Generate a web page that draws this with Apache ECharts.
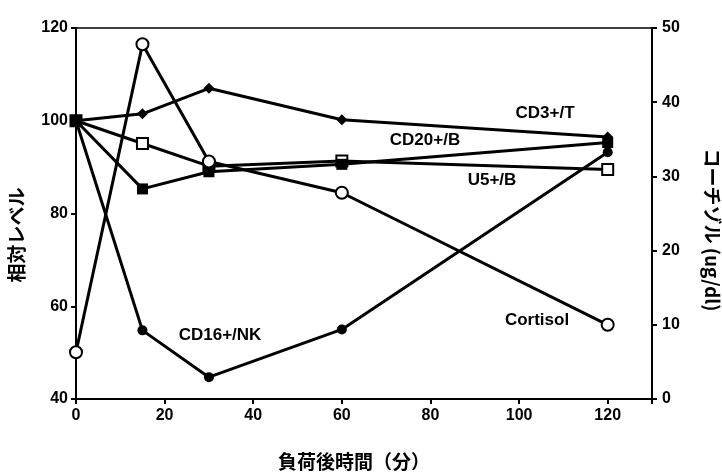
<!DOCTYPE html>
<html>
<head>
<meta charset="utf-8">
<script src="https://cdn.jsdelivr.net/npm/echarts@6/dist/echarts.min.js"></script>
<style>
  html, body { margin: 0; padding: 0; background: #fff; }
  #chart { width: 722px; height: 474px; }
</style>
</head>
<body>
<div id="chart"></div>
<script>
// Minutes after load
const times = [0, 15, 30, 60, 120];

// Relative levels (left axis)
const cd3T = [100, 101.5, 107, 100.2, 96.5];
const cd20B = [100, 85.3, 89, 90.6, 95.3];
const u5B = [100, 95.1, 90.2, 91.3, 89.5];
const cd16NK = [100, 54.8, 44.7, 55, 93.2];

// Cortisol, ug/dl (right axis)
const cortisol = [6.3, 47.8, 32, 27.8, 10];

// Axis ranges and tick steps
const xRange = [0, 130, 20];
const leftRange = [40, 120, 20];
const rightRange = [0, 50, 10];

const pairs = (vals) => times.map((t, i) => [t, vals[i]]);

const FONT = '"Liberation Sans", Arial, sans-serif';
const CJK = '"Noto Sans CJK JP", sans-serif';

const chart = echarts.init(document.getElementById('chart'));

const axisBase = {
  axisLine: { show: true, lineStyle: { color: '#000', width: 2 } },
  axisTick: { show: true, inside: false, length: 5, lineStyle: { color: '#000', width: 2 } },
  splitLine: { show: false },
  axisLabel: { color: '#000', fontFamily: FONT, fontSize: 16, fontWeight: 'bold' }
};

function lineSeries(name, vals, symbol, size, filled, yAxisIndex, z) {
  return {
    name: name,
    type: 'line',
    data: pairs(vals),
    yAxisIndex: yAxisIndex,
    symbol: symbol,
    symbolSize: size,
    showAllSymbol: true,
    z: z,
    lineStyle: { color: '#000', width: 3 },
    itemStyle: { color: filled ? '#000' : '#fff', borderColor: '#000', borderWidth: filled ? 0 : 2 },
    emphasis: { disabled: true },
    animation: false
  };
}

const labelStyle = { fill: '#000', fontFamily: FONT, fontSize: 17, fontWeight: 'bold' };

chart.setOption({
  animation: false,
  grid: {
    left: 76, right: 70, top: 28, bottom: 75,
    show: true, borderColor: '#000', borderWidth: 1.5, backgroundColor: 'transparent'
  },
  xAxis: Object.assign({}, axisBase, {
    type: 'value',
    min: xRange[0], max: xRange[1], interval: xRange[2],
    axisLabel: Object.assign({}, axisBase.axisLabel, {
      margin: 9,
      formatter: (v) => (v > 120 ? '' : String(v))
    })
  }),
  yAxis: [
    Object.assign({}, axisBase, {
      type: 'value', position: 'left',
      min: leftRange[0], max: leftRange[1], interval: leftRange[2],
      axisLabel: Object.assign({}, axisBase.axisLabel, { margin: 8 })
    }),
    Object.assign({}, axisBase, {
      type: 'value', position: 'right',
      min: rightRange[0], max: rightRange[1], interval: rightRange[2],
      axisLabel: Object.assign({}, axisBase.axisLabel, { margin: 10 })
    })
  ],
  series: [
    lineSeries('CD3+/T', cd3T, 'diamond', 11, true, 0, 2),
    lineSeries('U5+/B', u5B, 'rect', 11, false, 0, 3),
    lineSeries('CD16+/NK', cd16NK, 'circle', 10, true, 0, 4),
    lineSeries('CD20+/B', cd20B, 'rect', 11, true, 0, 5),
    lineSeries('Cortisol', cortisol, 'circle', 12, false, 1, 6)
  ],
  graphic: [
    { type: 'text', x: 545, y: 113, style: Object.assign({ text: 'CD3+/T', align: 'center', verticalAlign: 'middle' }, labelStyle) },
    { type: 'text', x: 425, y: 140, style: Object.assign({ text: 'CD20+/B', align: 'center', verticalAlign: 'middle' }, labelStyle) },
    { type: 'text', x: 492, y: 180, style: Object.assign({ text: 'U5+/B', align: 'center', verticalAlign: 'middle' }, labelStyle) },
    { type: 'text', x: 220, y: 335, style: Object.assign({ text: 'CD16+/NK', align: 'center', verticalAlign: 'middle' }, labelStyle) },
    { type: 'text', x: 537, y: 320, style: Object.assign({ text: 'Cortisol', align: 'center', verticalAlign: 'middle' }, labelStyle) },
    {
      type: 'text', x: 17, y: 235, rotation: Math.PI / 2,
      style: { text: '相対レベル', align: 'center', verticalAlign: 'middle', fill: '#000', fontFamily: CJK, fontSize: 19, fontWeight: 'bold' }
    },
    {
      type: 'text', x: 712, y: 230, rotation: -Math.PI / 2,
      style: { text: 'コーチゾル (ug/dl)', align: 'center', verticalAlign: 'middle', fill: '#000', fontFamily: CJK, fontSize: 19, fontWeight: 'bold' }
    },
    {
      type: 'text', x: 354, y: 462,
      style: { text: '負荷後時間（分）', align: 'center', verticalAlign: 'middle', fill: '#000', fontFamily: CJK, fontSize: 19, fontWeight: 'bold' }
    }
  ]
});
</script>
</body>
</html>
